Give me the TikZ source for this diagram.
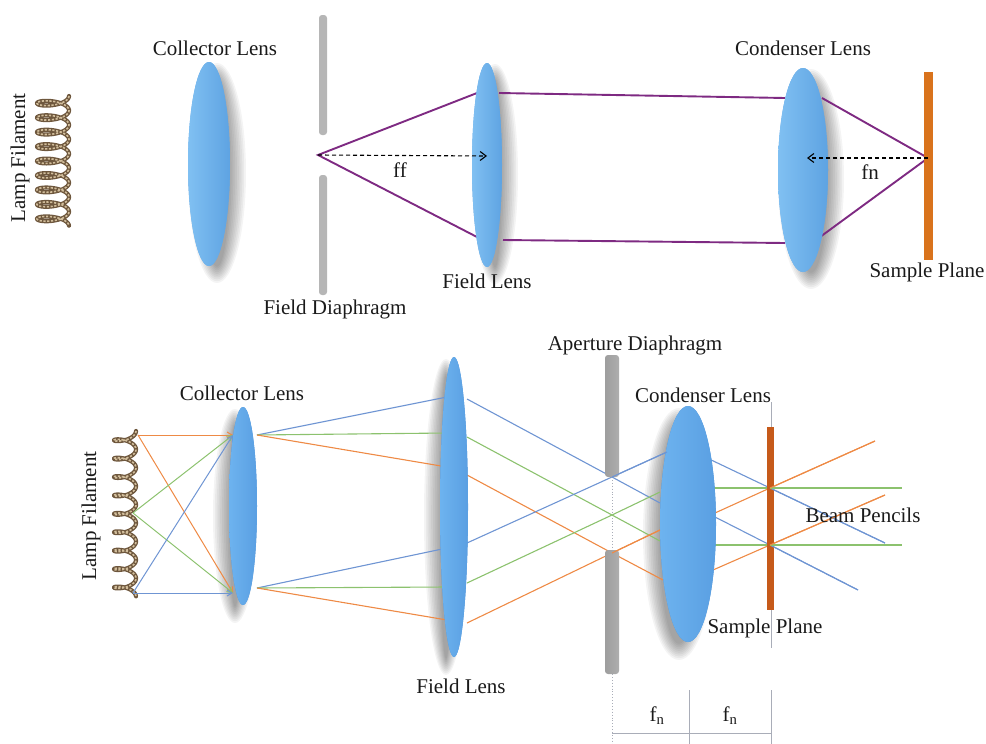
\documentclass[tikz,border=0pt]{standalone}
\usepackage{fontspec}
\setmainfont{Liberation Serif}
\usetikzlibrary{arrows.meta,shapes.geometric}

\definecolor{lensedgeA}{HTML}{80C0F2}
\definecolor{lensmidA}{HTML}{64A9E7}
\definecolor{lensrightA}{HTML}{5EA3E2}
\definecolor{lensedgeB}{HTML}{6DB3EF}
\definecolor{lensmidB}{HTML}{4C92DA}
\definecolor{lensrightB}{HTML}{5A9FE2}
\definecolor{rayorange}{HTML}{EE8A45}
\definecolor{raygreen}{HTML}{8CC26E}
\definecolor{rayblue}{HTML}{6F95D3}
\definecolor{raypurple}{HTML}{7E2A82}
\definecolor{plateorange}{HTML}{D9731C}
\definecolor{platedark}{HTML}{C65A1A}
\definecolor{stoplight}{HTML}{B6B6B6}
\definecolor{stopdark}{HTML}{939393}
\definecolor{guidegray}{HTML}{A9ADB8}
\definecolor{coildark}{HTML}{6E573D}
\definecolor{coillight}{HTML}{D2BE9C}
\definecolor{labeltext}{HTML}{1A1A1A}

% soft drop shadow of a lens: centre x, centre y, half width, half height, shift x, shift y
\newcommand{\lensshade}[6]{%
  \foreach \k in {0,...,9}{%
    \fill[black, opacity=0.045] ({#1+#5},{#2+#6}) ellipse ({#3+8-1.8*\k} and {#4+8-1.8*\k});}%
}

\tikzset{
  lbl/.style={font=\fontsize{21}{25}\selectfont, text=labeltext, inner sep=0pt},
  lensA/.style={ellipse, inner sep=0pt, draw=none, fill=lensmidA,
      left color=lensedgeA, middle color=lensmidA, right color=lensrightA},
  lensB/.style={ellipse, inner sep=0pt, draw=none, fill=lensmidB,
      left color=lensedgeB, middle color=lensmidB, right color=lensrightB},
  stopbar/.style={rectangle, rounded corners=3pt, inner sep=0pt, draw=none, fill=stoplight},
  stopbardark/.style={rectangle, rounded corners=3pt, inner sep=0pt, draw=none,
      left color=stopdark!90, right color=stopdark!75!white},
  plate/.style={rectangle, inner sep=0pt, draw=none, fill=plateorange},
  platebot/.style={rectangle, inner sep=0pt, draw=none, fill=platedark},
  beam/.style={raypurple, line width=1.9pt},
  focal/.style={black, line width=1.1pt, dash pattern=on 4pt off 3pt,
      -{Straight Barb[length=6pt,width=9pt]}},
  ray/.style={line width=1.1pt},
  srcray/.style={line width=1pt, -{Straight Barb[length=5pt,width=6pt]}},
  guide/.style={guidegray, line width=0.9pt},
  dotguide/.style={guidegray, line width=0.9pt, dotted},
  coilout/.style={coildark, line width=4.2pt, line cap=round, line join=round},
  coilin/.style={coillight, line width=1.6pt, dash pattern=on 2.2pt off 1.6pt},
}

\begin{document}
\begin{tikzpicture}[x=1pt, y=-1pt]
\useasboundingbox (0,0) rectangle (986,744);

% ================= upper drawing: focal lengths =================
% lamp filament coil
\draw[coilout] plot[domain=0:56.5, samples=420, smooth]
  ({53 + 16*cos(\x r)}, {96 + 2.3*\x + 5.5*sin(\x r)});
\draw[coilin] plot[domain=0:56.5, samples=420, smooth]
  ({53 + 16*cos(\x r)}, {96 + 2.3*\x + 5.5*sin(\x r)});
\node[lbl, rotate=90] (lf1) at (20,158) {Lamp Filament};

% named points of the purple beam
\coordinate (ff0) at (318,155);
\coordinate (flA) at (477,93);
\coordinate (flB) at (477,237);
\coordinate (flC) at (499,93);
\coordinate (flD) at (503,240);
\coordinate (cdA) at (785,98);
\coordinate (cdB) at (785,243);
\coordinate (cdC) at (822,98);
\coordinate (cdD) at (820,237);
\coordinate (spt) at (928,158);

% lens shadows
\lensshade{209}{164}{21}{102}{8}{9}
\lensshade{487}{165}{15}{102}{8}{9}
\lensshade{803}{170}{25}{102}{8}{9}

\draw[beam] (flA) -- (ff0) -- (flB);
\draw[beam] (flC) -- (cdA);
\draw[beam] (flD) -- (cdB);
\draw[beam] (cdC) -- (spt) -- (cdD);

% optics
\node[lensA, minimum width=42, minimum height=204] (cl1) at (209,164) {};
\node[stopbar, minimum width=8, minimum height=120] (fdU) at (323,75) {};
\node[stopbar, minimum width=8, minimum height=120] (fdL) at (323,235) {};
\node[lensA, minimum width=30, minimum height=204] (fl1) at (487,165) {};
\node[lensA, minimum width=50, minimum height=204] (cd1) at (803,170) {};
\node[plate, minimum width=9, minimum height=188] (sp1) at (928,166) {};

% focal length markers
\coordinate (ffE) at (487,156);
\coordinate (fnE) at (807,158);
\draw[focal] (ff0) -- (ffE);
\draw[focal] (spt) -- (fnE);
\node[lbl] (ffl) at (400,170) {ff};
\node[lbl] (fnl) at (870,172) {fn};

% labels
\node[lbl] (cl1t) at (215,48) {Collector Lens};
\node[lbl] (fd1t) at (335,309) {Field Diaphragm};
\node[lbl] (fl1t) at (487,281) {Field Lens};
\node[lbl] (cd1t) at (803,48) {Condenser Lens};
\node[lbl] (sp1t) at (927,272) {Sample Plane};

% ================= lower drawing: beam pencils =================
% guide lines behind everything
\draw[guide] (771,402) -- (771,648);
\draw[dotguide] (612,477) -- (612,553);
\draw[dotguide] (612,674) -- (612,744);
\draw[guide] (689,690) -- (689,744);
\draw[guide] (771,690) -- (771,744);
\draw[guide] (612,733) -- (771,733);

% lamp filament coil
\draw[coilout] plot[domain=0:56.5, samples=420, smooth]
  ({125 + 11*cos(\x r)}, {431 + 2.93*\x + 4.5*sin(\x r)});
\draw[coilin] plot[domain=0:56.5, samples=420, smooth]
  ({125 + 11*cos(\x r)}, {431 + 2.93*\x + 4.5*sin(\x r)});
\node[lbl, rotate=90] (lf2) at (91,516) {Lamp Filament};

% lens shadows
\lensshade{243}{506}{14}{99}{-8}{10}
\lensshade{454}{507}{14}{150}{-8}{10}
\lensshade{688}{524}{28}{118}{-9}{10}

% source points on the filament and collector entry points
\coordinate (s1) at (138,435);
\coordinate (s2) at (133,513);
\coordinate (s3) at (133,593);
\coordinate (c1) at (233,435);
\coordinate (c2) at (233,593);
\draw[srcray, rayorange] (s1) -- (c1);
\draw[srcray, rayorange] (s1) -- (c2);
\draw[srcray, raygreen] (s2) -- (c1);
\draw[srcray, raygreen] (s2) -- (c2);
\draw[srcray, rayblue] (s3) -- (c1);
\draw[srcray, rayblue] (s3) -- (c2);

% collector exits
\coordinate (e1) at (257,435);
\coordinate (e2) at (257,588);
% field lens entries
\coordinate (a1) at (447,397);
\coordinate (a2) at (447,433);
\coordinate (a3) at (447,467);
\coordinate (a4) at (447,548);
\coordinate (a5) at (447,587);
\coordinate (a6) at (447,620);
% field lens exits
\coordinate (b1) at (467,399);
\coordinate (b2) at (467,437);
\coordinate (b3) at (467,475);
\coordinate (b4) at (467,543);
\coordinate (b5) at (467,583);
\coordinate (b6) at (467,623);
% filament images in the aperture plane
\coordinate (k1) at (612,477);
\coordinate (k2) at (612,515);
\coordinate (k3) at (612,553);
% condenser entries
\coordinate (d1) at (660,503);
\coordinate (d2) at (660,541);
\coordinate (d3) at (663,580);
\coordinate (d4) at (667,452);
\coordinate (d5) at (660,492);
\coordinate (d6) at (660,530);
% condenser exits
\coordinate (x1) at (707,458);
\coordinate (x2) at (713,488);
\coordinate (x3) at (715,513);
\coordinate (x4) at (715,517);
\coordinate (x5) at (713,545);
\coordinate (x6) at (713,570);
% pencil crossings in the sample plane
\coordinate (T) at (770,488);
\coordinate (B) at (770,545);
% free ends of the pencils
\coordinate (z1) at (885,543);
\coordinate (z2) at (902,488);
\coordinate (z3) at (875,441);
\coordinate (z4) at (858,590);
\coordinate (z5) at (902,545);
\coordinate (z6) at (885,495);

% rays: collector -> field lens -> aperture -> condenser -> sample
\draw[ray, rayblue]   (e1) -- (a1);
\draw[ray, raygreen]  (e1) -- (a2);
\draw[ray, rayorange] (e1) -- (a3);
\draw[ray, rayblue]   (e2) -- (a4);
\draw[ray, raygreen]  (e2) -- (a5);
\draw[ray, rayorange] (e2) -- (a6);

\draw[ray, rayblue]   (b1) -- (k1) -- (d1);
\draw[ray, raygreen]  (b2) -- (k2) -- (d2);
\draw[ray, rayorange] (b3) -- (k3) -- (d3);
\draw[ray, rayblue]   (b4) -- (k1) -- (d4);
\draw[ray, raygreen]  (b5) -- (k2) -- (d5);
\draw[ray, rayorange] (b6) -- (k3) -- (d6);

\draw[ray, rayblue]   (x1) -- (T) -- (z1);
\draw[ray, raygreen]  (x2) -- (T) -- (z2);
\draw[ray, rayorange] (x3) -- (T) -- (z3);
\draw[ray, rayblue]   (x4) -- (B) -- (z4);
\draw[ray, raygreen]  (x5) -- (B) -- (z5);
\draw[ray, rayorange] (x6) -- (B) -- (z6);

% optics
\node[lensB, minimum width=28, minimum height=198] (cl2) at (243,506) {};
\node[lensB, minimum width=28, minimum height=300] (fl2) at (454,507) {};
\node[stopbardark, minimum width=14, minimum height=122] (apU) at (612,416) {};
\node[stopbardark, minimum width=14, minimum height=124] (apL) at (612,612) {};
\node[lensB, minimum width=56, minimum height=236] (cd2) at (688,524) {};
\node[platebot, minimum width=7, minimum height=183] (sp2) at (770,518) {};

% pencils stay visible where they cross the sample plane and the stop edges
\draw[ray, rayblue]   (T) -- (z1);
\draw[ray, raygreen]  (T) -- (z2);
\draw[ray, rayorange] (T) -- (z3);
\draw[ray, rayblue]   (B) -- (z4);
\draw[ray, raygreen]  (B) -- (z5);
\draw[ray, rayorange] (B) -- (z6);
\draw[ray, rayblue]   (k1) -- (d4);
\draw[ray, rayorange] (k3) -- (d6);

% labels
\node[lbl] (cl2t) at (242,393) {Collector Lens};
\node[lbl] (fl2t) at (461,686) {Field Lens};
\node[lbl] (ap2t) at (635,345) {Aperture Diaphragm};
\node[lbl] (cd2t) at (703,395) {Condenser Lens};
\node[lbl] (sp2t) at (765,628) {Sample Plane};
\node[lbl] (bp2t) at (863,515) {Beam Pencils};
\node[lbl] (fn1) at (657,716) {f\textsubscript{n}};
\node[lbl] (fn2) at (730,716) {f\textsubscript{n}};
\end{tikzpicture}
\end{document}
